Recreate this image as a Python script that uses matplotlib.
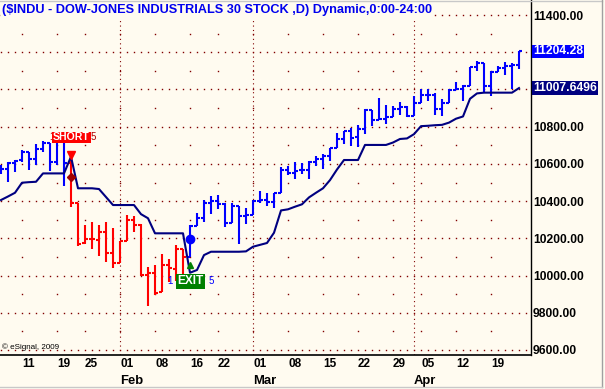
import matplotlib
matplotlib.use("Agg")
import matplotlib.pyplot as plt
from matplotlib.lines import Line2D
import numpy as np

# daily bars, index 0 = Jan 11 2010 (first visible bar is Jan 6)
bar_idx = list(range(-3, 72))
opens = [10573, 10571, 10606, 10620, 10662, 10628, 10680, 10710, 10608, 10722,
         10603, 10389, 10173, 10194, 10192, 10236, 10121, 10068, 10185, 10296,
         10270, 10002, 10012, 9909, 10058, 10037, 10143, 10100, 10269, 10309,
         10391, 10402, 10383, 10282, 10372, 10321, 10326, 10403, 10405, 10396,
         10444, 10566, 10552, 10565, 10567, 10612, 10624, 10643, 10686, 10733,
         10779, 10742, 10786, 10888, 10836, 10841, 10850, 10895, 10907, 10857,
         10928, 10973, 10969, 10896, 10927, 10998, 11005, 11019, 11123, 11144,
         11018, 11092, 11117, 11124, 11134]
highs = [10594, 10612, 10619, 10675, 10663, 10709, 10723, 10710, 10729, 10723,
         10650, 10389, 10270, 10287, 10270, 10289, 10257, 10188, 10323, 10318,
         10276, 10048, 10059, 10115, 10089, 10166, 10143, 10270, 10335, 10405,
         10430, 10431, 10388, 10392, 10372, 10363, 10404, 10455, 10446, 10444,
         10585, 10590, 10611, 10607, 10615, 10640, 10652, 10688, 10764, 10779,
         10793, 10809, 10893, 10888, 10953, 10917, 10913, 10932, 10913, 10966,
         11000, 11003, 10983, 10950, 11000, 11039, 11023, 11123, 11154, 11144,
         11097, 11125, 11150, 11143, 11208]
lows = [10546, 10505, 10554, 10608, 10568, 10592, 10664, 10561, 10596, 10483,
        10369, 10159, 10172, 10141, 10103, 10071, 10043, 10068, 10185, 10233,
        9998, 9835, 9897, 9909, 9966, 9970, 9978, 10100, 10265, 10289,
        10330, 10358, 10259, 10282, 10169, 10279, 10326, 10390, 10372, 10362,
        10444, 10538, 10518, 10546, 10517, 10590, 10571, 10615, 10686, 10705,
        10695, 10689, 10762, 10806, 10836, 10815, 10850, 10861, 10851, 10857,
        10926, 10936, 10865, 10856, 10927, 10997, 10938, 11019, 11097, 10980,
        10965, 11092, 11076, 11002, 11111]
closes = [10573, 10606, 10618, 10663, 10627, 10680, 10710, 10609, 10725, 10603,
          10389, 10172, 10196, 10194, 10236, 10120, 10067, 10185, 10296, 10270,
          10002, 10012, 9908, 10058, 10038, 10144, 10099, 10268, 10309, 10392,
          10402, 10383, 10282, 10374, 10321, 10325, 10403, 10405, 10396, 10444,
          10566, 10552, 10564, 10567, 10611, 10624, 10642, 10685, 10733, 10779,
          10741, 10785, 10888, 10836, 10841, 10850, 10895, 10907, 10856, 10927,
          10973, 10969, 10897, 10927, 10997, 11005, 11019, 11123, 11144, 11018,
          11092, 11117, 11124, 11134, 11204.28]
# dynamic trailing stop
stop = [10406, 10425, 10445, 10499, 10502, 10504, 10549, 10549, 10549, 10549,
        10639, 10469, 10469, 10469, 10465, 10422, 10379, 10379, 10379, 10379,
        10330, 10308, 10227, 10227, 10227, 10227, 10227, 10015, 10030, 10110,
        10128, 10128, 10128, 10128, 10128, 10130, 10155, 10165, 10175, 10230,
        10350, 10356, 10370, 10383, 10420, 10445, 10469, 10513, 10570, 10621,
        10621, 10621, 10702, 10702, 10702, 10702, 10715, 10734, 10737, 10760,
        10803, 10805, 10808, 10810, 10822, 10843, 10855, 10950, 10979, 10983,
        10983, 10983, 10983, 10983, 11007.6496]

short_start, short_end = 7, 23      # bars drawn red (short position)
exit_bar = 24

day_idx = [0, 5, 9, 14, 19, 24, 28, 33, 38, 43, 48, 53, 57, 62, 67]
day_labels = ["11", "19", "25", "01", "08", "16", "22", "01", "08", "15",
              "22", "29", "05", "12", "19"]
month_idx = [14, 33, 56]
month_labels = ["Feb", "Mar", "Apr"]
ytick_vals = [9600, 9800, 10000, 10200, 10400, 10600, 10800, 11400]

title = "($INDU - DOW-JONES INDUSTRIALS 30 STOCK ,D) Dynamic,0:00-24:00"

bg = "#fffbf0"
grid_c = "#800000"
blue = "#0000ff"
navy = "#000080"
red = "#ff0000"
FONT = "Liberation Sans"

fig = plt.figure(figsize=(6.05, 3.89), dpi=100, facecolor=bg)
ax = fig.add_axes([0, 34 / 389, 531 / 605, 355 / 389])
ax.set_facecolor(bg)
ax.set_xlim(-22 / 7, 509 / 7)
ax.set_ylim(9573, 11481)

# dotted grid: dense rows on labelled levels, sparse on the in-between ones
xs_all = np.arange(-3, 73)
for lev in range(9600, 11401, 200):
    ax.plot(xs_all, [lev] * len(xs_all), ls="none", marker="s", ms=1.0,
            mew=0, color=grid_c, zorder=1)
for lev in range(9700, 11400, 200):
    ax.plot(day_idx, [lev] * len(day_idx), ls="none", marker="s", ms=1.0,
            mew=0, color=grid_c, zorder=1)
for m in month_idx:
    ax.axvline(m, color=grid_c, lw=0.8, ls=(0, (1, 3)), zorder=1)

# OHLC bars
bi = np.array(bar_idx)
cols = [red if short_start <= i <= short_end else blue for i in bar_idx]
ax.vlines(bi, lows, highs, colors=cols, lw=1.5, zorder=3)
ax.hlines(opens, bi - 0.45, bi, colors=cols, lw=1.5, zorder=3)
ax.hlines(closes, bi, bi + 0.45, colors=cols, lw=1.5, zorder=3)

ax.plot(bi, stop, color=navy, lw=1.5, zorder=4)

# signals
ax.plot(short_start, 10650, marker="v", ms=6, color=red, zorder=5)
ax.plot(short_start, 10530, marker="D", ms=4, color="#a00000", zorder=5)
ax.plot(exit_bar, 10196, marker="o", ms=6, color=blue, zorder=5)
ax.plot(exit_bar, 10055, marker="^", ms=5, color="#008000", zorder=5)

ax.text(short_start + 0.07, 10742, "SHORT", ha="center", va="center",
        color="white", fontweight="bold", fontsize=7.6, family=FONT, zorder=7,
        bbox=dict(boxstyle="square,pad=0.08", fc=red, ec="none"))
ax.annotate("1", (short_start + 0.07, 10742), xytext=(-12.4, 0),
            textcoords="offset points", ha="right", va="center",
            color="#b00000", fontsize=7, family=FONT, zorder=6)
ax.annotate("5", (short_start + 0.07, 10742), xytext=(13.4, 0),
            textcoords="offset points", ha="left", va="center",
            color="#b00000", fontsize=7, family=FONT, zorder=6)

ax.text(exit_bar + 0.03, 9970, "EXIT", ha="center", va="center",
        color="white", fontweight="bold", fontsize=8.6, family=FONT, zorder=7,
        bbox=dict(boxstyle="square,pad=0.12", fc="#008000", ec="none"))
ax.annotate("1", (exit_bar + 0.03, 9970), xytext=(-12.8, 0),
            textcoords="offset points", ha="right", va="center",
            color=blue, fontsize=7, family=FONT, zorder=6)
ax.annotate("5", (exit_bar + 0.03, 9970), xytext=(13, 0),
            textcoords="offset points", ha="left", va="center",
            color=blue, fontsize=7, family=FONT, zorder=6)

# axes
for s in ["left", "top"]:
    ax.spines[s].set_visible(False)
ax.spines["right"].set_color("black")
ax.spines["bottom"].set_color("black")
ax.spines["right"].set_linewidth(1.0)
ax.spines["bottom"].set_linewidth(1.2)
ax.yaxis.tick_right()
ax.set_yticks(ytick_vals)
ax.set_yticklabels([f"{v:.2f}" for v in ytick_vals], fontweight="bold",
                   fontsize=8.7, family=FONT)
ax.tick_params(axis="y", length=0, pad=1.5)
ax.set_xticks([])

xt = ax.get_xaxis_transform()
for i, lab in zip(day_idx, day_labels):
    ax.text(i, -9 / 355, lab, transform=xt, ha="left", va="center",
            fontweight="bold", fontsize=8.5, family=FONT, clip_on=False)
for i, lab in zip(month_idx, month_labels):
    ax.text(i, -25.7 / 355, lab, transform=xt, ha="left", va="center",
            fontweight="bold", fontsize=9.4, family=FONT, clip_on=False)

# current values on the price scale
for val, txt, fc in [(closes[-1], "11204.28", blue),
                     (stop[-1], "11007.6496", navy)]:
    ax.annotate(txt, (1, val), xycoords=("axes fraction", "data"),
                xytext=(1.6, 0), textcoords="offset points", ha="left",
                va="center", color="white", fontweight="bold", fontsize=8.7,
                family=FONT, annotation_clip=False,
                bbox=dict(boxstyle="square,pad=0.08", fc=fc, ec="none"))

fig.text(2 / 605, 1 - 10.5 / 389, title, ha="left", va="center",
         color="#0000ee", fontweight="bold", fontsize=9.2, family=FONT,
         bbox=dict(boxstyle="square,pad=0.1", fc=bg, ec="none"))
fig.text(2 / 605, 1 - 347.5 / 389, "\u00a9 eSignal, 2009", ha="left",
         va="center", fontsize=5.8, family=FONT)

# window frame
fig.add_artist(Line2D([0, 601.5 / 605], [1 - 0.5 / 389] * 2,
                      transform=fig.transFigure, color="#c8c8c8", lw=1))
fig.add_artist(Line2D([601.5 / 605] * 2, [1 - 387 / 389, 1],
                      transform=fig.transFigure, color="#a0a0a0", lw=1))
fig.add_artist(Line2D([0, 601.5 / 605], [1 - 387 / 389] * 2,
                      transform=fig.transFigure, color="#c8c8c8", lw=1))

fig.savefig("out.png", dpi=100, facecolor=bg)
